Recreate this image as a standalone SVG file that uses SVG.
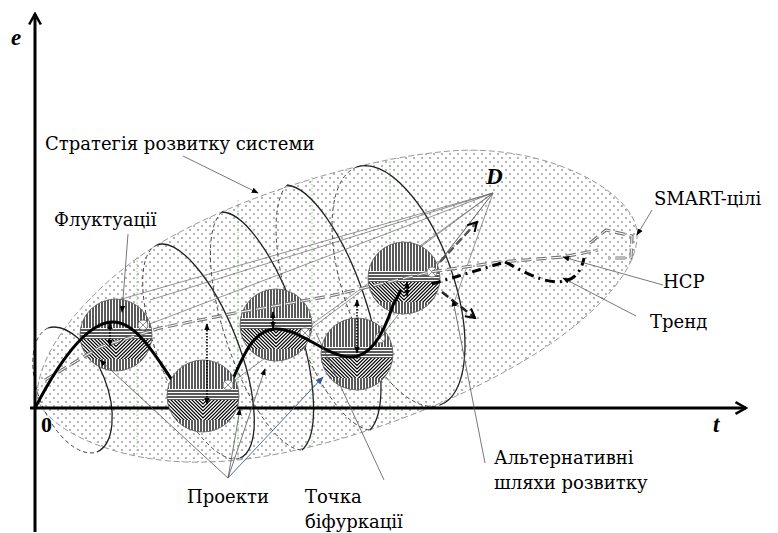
<svg xmlns="http://www.w3.org/2000/svg" width="778" height="533" viewBox="0 0 778 533">
<style>
.lbl{font-family:'DejaVu Serif',serif;font-size:18px;fill:#000}
.bi{font-family:'Liberation Serif','Times New Roman',serif;font-weight:bold;font-style:italic;font-size:23px;fill:#000}
.lead{stroke:#555;stroke-width:0.8;fill:none}
.coil{stroke:#222;stroke-width:1.3;fill:none}
.coilb{stroke:#444;stroke-width:1;fill:none;stroke-dasharray:4 3}
.grn{stroke:#8b8;stroke-width:0.8;stroke-dasharray:1.5 2;fill:none}
.fan{stroke:#666;stroke-width:0.7;fill:none}
.vd{stroke:#000;stroke-width:1.6;stroke-dasharray:1.5 1.5;fill:none}
</style>
<defs>
<pattern id="dots" width="8" height="8" patternUnits="userSpaceOnUse">
<rect width="8" height="8" fill="#fff"/>
<circle cx="2" cy="2" r="0.75" fill="#444"/>
<circle cx="6" cy="6" r="0.75" fill="#444"/>
</pattern>
<pattern id="pv" width="3" height="3" patternUnits="userSpaceOnUse"><rect width="3" height="3" fill="#fff"/><line x1="1" y1="0" x2="1" y2="3" stroke="#000" stroke-width="1.3"/></pattern>
<pattern id="ph" width="3" height="3" patternUnits="userSpaceOnUse"><rect width="3" height="3" fill="#fff"/><line x1="0" y1="1" x2="3" y2="1" stroke="#000" stroke-width="1.3"/></pattern>
<clipPath id="dc"><circle r="36"/></clipPath>
<clipPath id="band"><rect x="-36" y="4" width="72" height="20"/></clipPath>
<g id="disk">
<circle r="36" fill="#fff"/>
<g clip-path="url(#dc)">
<rect x="-36" y="-36" width="72" height="29" fill="url(#pv)"/>
<rect x="-36" y="-7" width="72" height="11" fill="url(#ph)"/>
<g clip-path="url(#band)">
<path d="M-40,-46 L0,-6 L40,-46 M-40,-42.5 L0,-2.5 L40,-42.5 M-40,-39 L0,1 L40,-39 M-40,-35.5 L0,4.5 L40,-35.5 M-40,-32 L0,8 L40,-32 M-40,-28.5 L0,11.5 L40,-28.5 M-40,-25 L0,15 L40,-25 M-40,-21.5 L0,18.5 L40,-21.5 M-40,-18 L0,22 L40,-18 M-40,-14.5 L0,25.5 L40,-14.5 M-40,-11 L0,29 L40,-11 M-40,-7.5 L0,32.5 L40,-7.5 M-40,-4 L0,36 L40,-4 M-40,-0.5 L0,39.5 L40,-0.5 M-40,3 L0,43 L40,3 M-40,6.5 L0,46.5 L40,6.5 M-40,10 L0,50 L40,10 M-40,13.5 L0,53.5 L40,13.5 M-40,17 L0,57 L40,17 M-40,20.5 L0,60.5 L40,20.5" stroke="#000" stroke-width="1.2" fill="none"/>
</g>
<rect x="-36" y="24" width="72" height="12" fill="url(#pv)"/>
</g>
<circle r="36" fill="none" stroke="#555" stroke-width="0.8"/>
</g>
<g id="xc">
<circle r="5" fill="#fff" stroke="#666" stroke-width="0.8"/>
<path d="M-3.5,-3.5 L3.5,3.5 M-3.5,3.5 L3.5,-3.5" stroke="#666" stroke-width="0.7"/>
</g>
<marker id="ar" viewBox="0 0 10 10" refX="9" refY="5" markerWidth="7" markerHeight="7" orient="auto-start-reverse" markerUnits="userSpaceOnUse"><path d="M0,1 L10,5 L0,9 z" fill="#000"/></marker>
<marker id="arb" viewBox="0 0 10 10" refX="9" refY="5" markerWidth="8" markerHeight="8" orient="auto" markerUnits="userSpaceOnUse"><path d="M0,1 L10,5 L0,9 z" fill="#3a5a9a"/></marker>
<marker id="axa" viewBox="0 0 12 12" refX="10" refY="6" markerWidth="14" markerHeight="14" orient="auto" markerUnits="userSpaceOnUse"><path d="M1,1 L10,6 L1,11" fill="none" stroke="#000" stroke-width="2.2"/></marker>
<marker id="vh" viewBox="0 0 12 12" refX="10" refY="6" markerWidth="12" markerHeight="12" orient="auto" markerUnits="userSpaceOnUse"><path d="M1,1 L10,6 L1,11" fill="none" stroke="#000" stroke-width="2"/></marker>
</defs>

<g id="strategy-ellipse">
<path d="M37,397 C37,345 100,280 157,245 C240,195 360,160 440,152 C540,140 635,190 637,233 C640,275 580,330 513,367 C430,415 300,460 207,462 C120,465 45,430 37,397 Z" fill="url(#dots)" stroke="#999" stroke-width="1" stroke-dasharray="6 3"/>
</g>

<g id="guides">
<line class="grn" x1="137" y1="257" x2="137" y2="455"/>
<line class="grn" x1="238" y1="200" x2="238" y2="459"/>
<line class="grn" x1="312" y1="177" x2="312" y2="446"/>
<line class="grn" x1="390" y1="158" x2="390" y2="425"/>
</g>

<g id="coils">
<path class="coilb" d="M48,328 A35,66.7 -21.6 0 0 97,452"/>
<path class="coil" d="M48,328 A35,66.7 -21.6 0 1 97,452"/>
<path class="coilb" d="M157,245 A40,114.3 -21.3 0 0 240,458"/>
<path class="coil" d="M157,245 A40,114.3 -21.3 0 1 240,458"/>
<path class="coilb" d="M222,212 A42,126.5 -18.4 0 0 302,450"/>
<path class="coil" d="M222,212 A42,126.5 -18.4 0 1 302,450"/>
<path class="coilb" d="M287,185 A45,131.2 -18.4 0 0 370,430"/>
<path class="coil" d="M287,185 A45,131.2 -18.4 0 1 370,430"/>
<path class="coilb" d="M357,167 A55,126 -19.2 0 0 440,405"/>
<path class="coil" d="M357,167 A55,126 -19.2 0 1 440,405"/>
</g>

<g id="axes">
<line x1="35" y1="532" x2="35" y2="14" stroke="#000" stroke-width="3" marker-end="url(#axa)"/>
<line x1="30" y1="408" x2="746" y2="408" stroke="#000" stroke-width="3" marker-end="url(#axa)"/>
<text class="bi" x="11" y="45">e</text>
<text class="bi" x="713" y="432">t</text>
<text x="41" y="432" style="font-family:'Liberation Serif',serif;font-weight:bold;font-size:22px">0</text>
</g>

<g id="fan-D">
<line class="fan" x1="493" y1="193" x2="147" y2="325"/>
<line class="fan" x1="493" y1="193" x2="150" y2="300"/>
<line class="fan" x1="493" y1="193" x2="118" y2="300"/>
<line class="fan" x1="493" y1="193" x2="228" y2="385"/>
<line class="fan" x1="493" y1="193" x2="305" y2="333"/>
<line class="fan" x1="493" y1="193" x2="380" y2="338"/>
<line class="fan" x1="493" y1="193" x2="432" y2="272"/>
<line class="fan" x1="493" y1="193" x2="455" y2="300"/>
<text class="bi" x="486" y="184">D</text>
</g>

<g id="disk1"><use href="#disk" x="116" y="335"/><use href="#xc" x="143" y="325"/></g>
<g id="disk3"><use href="#disk" x="276" y="325"/><use href="#xc" x="305" y="333"/></g>
<g id="disk4"><use href="#disk" x="357" y="354"/><use href="#xc" x="380" y="338"/></g>
<g id="disk5"><use href="#disk" x="404" y="278"/><use href="#xc" x="432" y="272"/></g>

<g id="nsr-line">
<path d="M45,380 L100,347 L160,328 L235,313 L330,296 L430,272 L500,262 L563,257 L598,250 M590,243 L606,230 L632,236 L631,258 L608,258" fill="none" stroke="#777" stroke-width="3.2" stroke-dasharray="10 5"/>
<path d="M45,380 L100,347 L160,328 L235,313 L330,296 L430,272 L500,262 L563,257 L598,250 M590,243 L606,230 L632,236 L631,258 L608,258" fill="none" stroke="#fff" stroke-width="1" stroke-dasharray="10 5"/>
</g>

<g id="main-curve">
<path d="M35,408 C60,360 88,322 113,322 C138,322 158,360 180,392 L230,386 C245,350 255,330 275,329 C300,328 325,356 350,357 C372,358 385,330 393,305 L401,290" fill="none" stroke="#000" stroke-width="3"/>
</g>

<g id="disk2"><use href="#disk" x="203" y="396"/><use href="#xc" x="228" y="385"/></g>

<g id="fluct-arrows">
<line class="vd" x1="110" y1="323" x2="110" y2="346" marker-start="url(#ar)" marker-end="url(#ar)"/>
<line class="vd" x1="207" y1="324" x2="207" y2="404" marker-start="url(#ar)" marker-end="url(#ar)"/>
<line class="vd" x1="273" y1="312" x2="273" y2="328" marker-start="url(#ar)" marker-end="url(#ar)"/>
<line class="vd" x1="357" y1="300" x2="357" y2="353" marker-start="url(#ar)" marker-end="url(#ar)"/>
<line class="vd" x1="407" y1="282" x2="407" y2="296" marker-start="url(#ar)" marker-end="url(#ar)"/>
</g>

<g id="alt-paths">
<line x1="440" y1="262" x2="477" y2="222" stroke="#555" stroke-width="2.5" stroke-dasharray="8 4" marker-end="url(#vh)"/>
<line x1="442" y1="292" x2="475" y2="318" stroke="#222" stroke-width="2.5" stroke-dasharray="8 4" marker-end="url(#vh)"/>
<path d="M432,284 L505,262" fill="none" stroke="#000" stroke-width="3" stroke-dasharray="9 5 2 5"/>
<path d="M505,262 C525,272 545,285 565,281 C575,279 582,270 584,258" fill="none" stroke="#000" stroke-width="3" stroke-dasharray="10 5 2 5"/>
</g>

<g id="leaders">
<line class="lead" x1="183" y1="156" x2="258" y2="193" marker-end="url(#ar)"/>
<line class="lead" x1="128" y1="234" x2="122" y2="312" marker-end="url(#ar)"/>
<line class="lead" x1="652" y1="210" x2="637" y2="235" marker-end="url(#ar)"/>
<line class="lead" x1="663" y1="285" x2="563" y2="257" marker-end="url(#ar)"/>
<line class="lead" x1="636" y1="316" x2="563" y2="278" marker-end="url(#ar)"/>
<line class="lead" x1="485" y1="463" x2="453" y2="300" marker-end="url(#ar)"/>
<line class="lead" x1="228" y1="478" x2="100" y2="360" marker-end="url(#ar)"/>
<line class="lead" x1="228" y1="478" x2="240" y2="409" marker-end="url(#ar)"/>
<line class="lead" x1="228" y1="478" x2="265" y2="369" marker-end="url(#ar)"/>
<line x1="228" y1="478" x2="323" y2="377" stroke="#3a5a9a" stroke-width="0.9" marker-end="url(#arb)"/>
<line class="lead" x1="384" y1="480" x2="316" y2="333"/>
</g>

<g id="labels">
<text class="lbl" x="45" y="150">Стратегія розвитку системи</text>
<text class="lbl" x="54" y="226">Флуктуації</text>
<text class="lbl" x="654" y="205">SMART-цілі</text>
<text class="lbl" x="663" y="288">НСР</text>
<text class="lbl" x="650" y="328">Тренд</text>
<text class="lbl" x="494" y="464">Альтернативні</text>
<text class="lbl" x="494" y="489">шляхи розвитку</text>
<text class="lbl" x="187" y="503">Проекти</text>
<text class="lbl" x="305" y="503">Точка</text>
<text class="lbl" x="305" y="528">біфуркації</text>
</g>
</svg>
